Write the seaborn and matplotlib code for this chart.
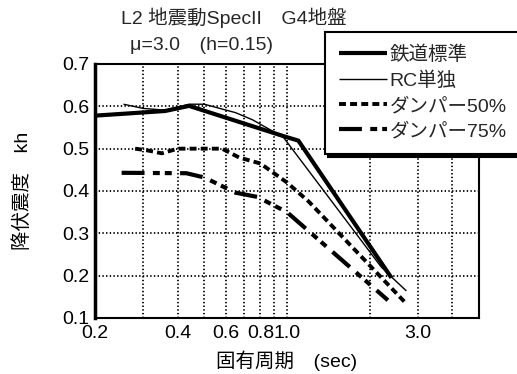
import matplotlib
matplotlib.use("Agg")
import matplotlib.pyplot as plt
import seaborn as sns
import pandas as pd
from matplotlib.ticker import FixedLocator, NullFormatter

sns.set_theme(style="white")
plt.rcParams['font.family'] = ['Liberation Sans', 'Noto Sans CJK JP', 'DejaVu Sans']
plt.rcParams['lines.scale_dashes'] = False
plt.rcParams['axes.grid'] = True
plt.rcParams['axes.grid.which'] = 'both'
plt.rcParams['grid.color'] = 'black'
plt.rcParams['grid.linestyle'] = ':'
plt.rcParams['grid.linewidth'] = 1.3
plt.rcParams['grid.alpha'] = 1.0

# ---- data ----
labels = ["鉄道標準", "RC単独", "ダンパー50%", "ダンパー75%"]

t_std = [0.2, 0.36, 0.44, 1.0, 1.10, 2.4]
kh_std = [0.578, 0.589, 0.601, 0.527, 0.519, 0.195]

t_rc = [0.254, 0.30, 0.36, 0.44, 0.50, 0.65, 0.75, 0.97, 2.2, 2.4, 2.72]
kh_rc = [0.605, 0.595, 0.591, 0.605, 0.605, 0.585, 0.568, 0.527, 0.221, 0.197, 0.164]

t_d50 = [0.28, 0.31, 0.35, 0.40, 0.58, 0.67, 0.80, 1.0, 1.2, 2.68]
kh_d50 = [0.500, 0.496, 0.489, 0.500, 0.500, 0.479, 0.465, 0.420, 0.375, 0.138]

t_d75 = [0.25, 0.43, 0.50, 0.65, 0.78, 1.0, 2.33]
kh_d75 = [0.443, 0.442, 0.432, 0.396, 0.386, 0.350, 0.142]

xtick_vals = [0.2, 0.4, 0.6, 0.8, 1.0, 3.0]
xtick_labels = ["0.2", "0.4", "0.6", "0.8", "1.0", "3.0"]
xminor_vals = [0.3, 0.5, 0.7, 0.9, 2.0, 4.0]
ytick_vals = [0.1, 0.2, 0.3, 0.4, 0.5, 0.6, 0.7]

series = [
    (t_std, kh_std, dict(lw=3.0, linestyle='-')),
    (t_rc, kh_rc, dict(lw=1.0, linestyle='-')),
    (t_d50, kh_d50, dict(lw=2.8, linestyle=(0, (5, 3)))),
    (t_d75, kh_d75, dict(lw=3.0, linestyle=(0, (16.5, 6, 5, 3.6, 5, 6)))),
]

fig = plt.figure(figsize=(5.17, 3.74), dpi=100)
ax = fig.add_axes([95/517, 1-318/374, (479-95)/517, (318-64)/374])

for (t, kh, st), lab in zip(series, labels):
    df = pd.DataFrame({"T": t, "kh": kh})
    sns.lineplot(data=df, x="T", y="kh", ax=ax, color="black", label=lab,
                 sort=False, estimator=None, solid_capstyle='butt',
                 dash_capstyle='butt', **st)

ax.set_xscale('log')
ax.set_xlim(0.2, 5.0)
ax.set_ylim(0.1, 0.7)
ax.xaxis.set_major_locator(FixedLocator(xtick_vals))
ax.set_xticklabels(xtick_labels)
ax.xaxis.set_minor_locator(FixedLocator(xminor_vals))
ax.xaxis.set_minor_formatter(NullFormatter())
ax.set_yticks(ytick_vals)
ax.set_yticklabels([f"{v:.1f}" for v in ytick_vals])
ax.tick_params(axis='both', which='both', length=0, labelsize=14, colors='black')
ax.tick_params(axis='x', pad=5)
ax.tick_params(axis='y', pad=4)

ax.xaxis.grid(True, which='both', color='black', linestyle=':', linewidth=1.3)
ax.yaxis.grid(True, which='major', color='black', linestyle=':', linewidth=1.3)
ax.set_axisbelow(True)
for s in ax.spines.values():
    s.set_visible(True)
    s.set_color('black')
    s.set_linewidth(1.5)
ax.spines['left'].set_linewidth(2.5)

ax.set_xlabel("固有周期　(sec)", fontsize=14, color='black', labelpad=6)
ax.set_ylabel("降伏震度　kh", fontsize=14, color='black', labelpad=22)

fig.text(234/517, 1-18/374, "L2 地震動SpecII　G4地盤", ha='center', va='center', fontsize=14)
fig.text(201/517, 1-45/374, "μ=3.0　(h=0.15)", ha='center', va='center', fontsize=14)

leg = ax.legend(loc='upper left', bbox_to_anchor=(325/517, 1-32/374, 200/517, 0),
                bbox_transform=fig.transFigure, mode='expand', frameon=True,
                fancybox=False, edgecolor='black', framealpha=1, fontsize=14,
                handlelength=2.5, handletextpad=0.12, labelspacing=0.38,
                borderpad=0.7, borderaxespad=0,
                shadow={'color': 'black', 'alpha': 1})
leg.get_frame().set_linewidth(1.5)
leg.set_zorder(10)

fig.savefig("out.png", dpi=100)
